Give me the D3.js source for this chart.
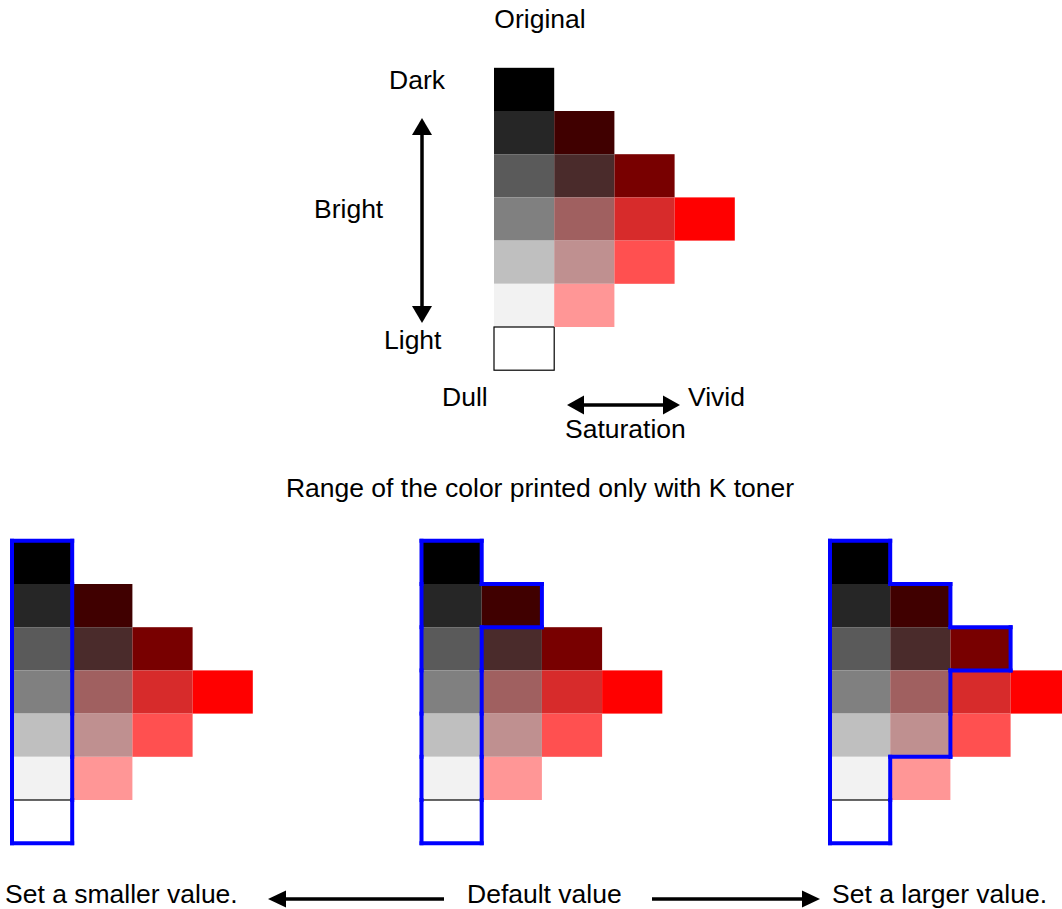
<!DOCTYPE html>
<html>
<head>
<meta charset="utf-8">
<script src="https://cdn.jsdelivr.net/npm/d3@7"></script>
<style>
  html, body { margin: 0; padding: 0; background: #ffffff; }
  svg { display: block; }
  text { font-family: "Liberation Sans", Arial, sans-serif; font-size: 26.5px; fill: #000; }
</style>
</head>
<body>
<script>
// ---- Data ----
const lightnessLevels = [0, 1, 2, 3, 4, 5, 6];          // rows: Dark -> Light
const saturationLevels = [0, 1, 2, 3];                   // columns: Dull -> Vivid
// colours per saturation column (index = lightness row; null = no cell)
const sat0Colors = ["#000000", "#262626", "#5a5a5a", "#808080", "#bfbfbf", "#f2f2f2", "#ffffff"];
const sat1Colors = [null, "#400000", "#4a2b2b", "#a06060", "#bf9090", "#ff9696"];
const sat2Colors = [null, null, "#780000", "#d72b2b", "#ff5050"];
const sat3Colors = [null, null, null, "#ff0000"];
// K-toner-only ranges: [saturation column, first row, last row]
const kRangeSmaller = [[0, 0, 6]];
const kRangeDefault = [[0, 0, 6], [1, 1, 1]];
const kRangeLarger  = [[0, 0, 6], [1, 1, 4], [2, 2, 2]];
const panelLabels = ["Set a smaller value.", "Default value", "Set a larger value."];

const columns = [sat0Colors, sat1Colors, sat2Colors, sat3Colors];
const cells = [];
columns.forEach((col, c) => col.forEach((color, r) => { if (color) cells.push({ c, r, color }); }));

// ---- Layout ----
const W = 1062, H = 909;
const cellW = 60.2, cellH = 43.2;
const svg = d3.select("body").append("svg").attr("width", W).attr("height", H);

function makeScales(x0, y0) {
  const x = d3.scaleBand().domain(saturationLevels).range([x0, x0 + cellW * saturationLevels.length]).padding(0);
  const y = d3.scaleBand().domain(lightnessLevels).range([y0, y0 + cellH * lightnessLevels.length]).padding(0);
  return { x, y };
}

function drawGrid(g, x, y) {
  g.selectAll("rect.cell").data(cells).join("rect")
    .attr("class", "cell")
    .attr("x", d => x(d.c)).attr("y", d => y(d.r))
    .attr("width", x.bandwidth()).attr("height", y.bandwidth())
    .attr("fill", d => d.color)
    .attr("stroke", d => d.color === "#ffffff" ? "#000" : "none")
    .attr("stroke-width", 1.2);
}

function drawOutline(g, x, y, ranges) {
  const inSet = new Set();
  ranges.forEach(([c, r0, r1]) => { for (let r = r0; r <= r1; r++) inSet.add(c + "," + r); });
  const has = (c, r) => inSet.has(c + "," + r);
  const edges = [];
  inSet.forEach(k => {
    const [c, r] = k.split(",").map(Number);
    const L = x(c), R = x(c) + x.bandwidth(), T = y(r), B = y(r) + y.bandwidth();
    if (!has(c, r - 1)) edges.push([L, T, R, T]);
    if (!has(c, r + 1)) edges.push([L, B, R, B]);
    if (!has(c - 1, r)) edges.push([L, T, L, B]);
    if (!has(c + 1, r)) edges.push([R, T, R, B]);
  });
  g.selectAll("line.outline").data(edges).join("line")
    .attr("class", "outline")
    .attr("x1", d => d[0]).attr("y1", d => d[1]).attr("x2", d => d[2]).attr("y2", d => d[3])
    .attr("stroke", "#0000ff").attr("stroke-width", 4).attr("stroke-linecap", "square");
}

function arrowHead(g, tipX, tipY, dir, len, halfW) {
  let pts;
  if (dir === "up") pts = [[tipX, tipY], [tipX - halfW, tipY + len], [tipX + halfW, tipY + len]];
  if (dir === "down") pts = [[tipX, tipY], [tipX - halfW, tipY - len], [tipX + halfW, tipY - len]];
  if (dir === "left") pts = [[tipX, tipY], [tipX + len, tipY - halfW], [tipX + len, tipY + halfW]];
  if (dir === "right") pts = [[tipX, tipY], [tipX - len, tipY - halfW], [tipX - len, tipY + halfW]];
  g.append("polygon").attr("points", pts.map(p => p.join(",")).join(" ")).attr("fill", "#000");
}

// ---- Top: Original ----
const topG = svg.append("g");
const ts = makeScales(494, 67.8);
drawGrid(topG, ts.x, ts.y);

topG.append("text").attr("x", 540).attr("y", 28).attr("text-anchor", "middle").text("Original");
topG.append("text").attr("x", 389).attr("y", 89).text("Dark");
topG.append("text").attr("x", 314).attr("y", 218).text("Bright");
topG.append("text").attr("x", 384).attr("y", 349).text("Light");
topG.append("text").attr("x", 442).attr("y", 406).text("Dull");
topG.append("text").attr("x", 688).attr("y", 406).text("Vivid");
topG.append("text").attr("x", 565).attr("y", 438).text("Saturation");

// vertical lightness arrow
topG.append("line").attr("x1", 422).attr("x2", 422).attr("y1", 130).attr("y2", 310)
  .attr("stroke", "#000").attr("stroke-width", 3.5);
arrowHead(topG, 422, 118, "up", 17, 10);
arrowHead(topG, 422, 323, "down", 17, 10);
// horizontal saturation arrow
topG.append("line").attr("x1", 580).attr("x2", 667).attr("y1", 405).attr("y2", 405)
  .attr("stroke", "#000").attr("stroke-width", 3.5);
arrowHead(topG, 567, 405, "left", 17, 9.5);
arrowHead(topG, 680, 405, "right", 17, 9.5);

// ---- Bottom: K toner ranges ----
svg.append("text").attr("x", 540).attr("y", 497).attr("text-anchor", "middle")
  .text("Range of the color printed only with K toner");

const panelX0 = [12, 421.5, 830];
const panelRanges = [kRangeSmaller, kRangeDefault, kRangeLarger];
panelX0.forEach((x0, i) => {
  const g = svg.append("g");
  const s = makeScales(x0, 540.8);
  drawGrid(g, s.x, s.y);
  drawOutline(g, s.x, s.y, panelRanges[i]);
});

// bottom labels and arrows
svg.append("text").attr("x", 5).attr("y", 903).text(panelLabels[0]);
svg.append("text").attr("x", 467).attr("y", 903).text(panelLabels[1]);
svg.append("text").attr("x", 832).attr("y", 903).text(panelLabels[2]);
svg.append("line").attr("x1", 280).attr("x2", 444).attr("y1", 899).attr("y2", 899)
  .attr("stroke", "#000").attr("stroke-width", 3.5);
arrowHead(svg, 268, 899, "left", 18, 8.5);
svg.append("line").attr("x1", 652).attr("x2", 808).attr("y1", 899).attr("y2", 899)
  .attr("stroke", "#000").attr("stroke-width", 3.5);
arrowHead(svg, 820, 899, "right", 18, 8.5);
</script>
</body>
</html>
